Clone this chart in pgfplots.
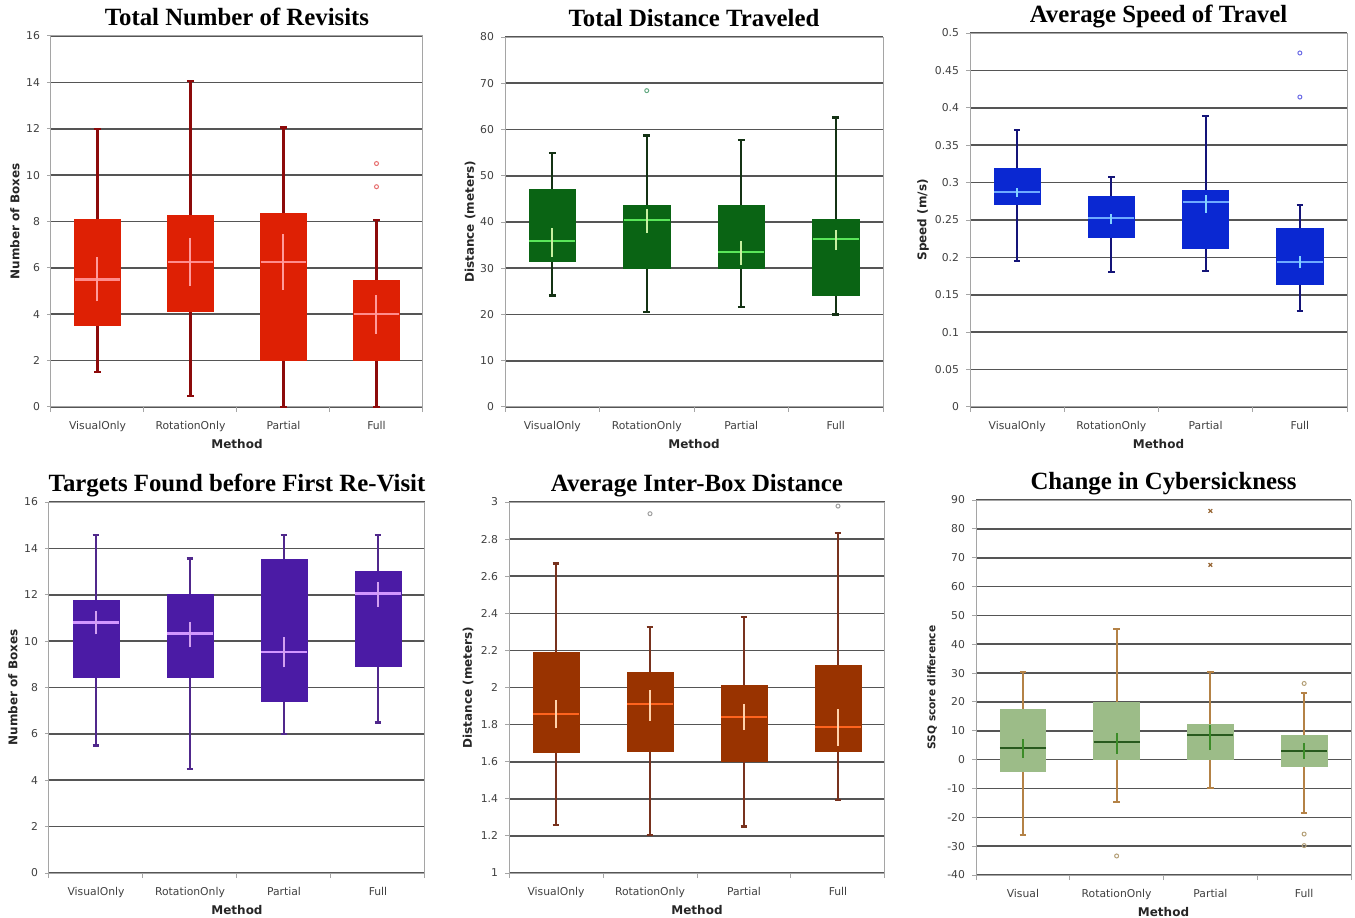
\documentclass[border=0pt]{standalone}
\usepackage{fontspec}
\setmainfont{DejaVu Sans}
\newfontfamily\titlefont{Liberation Serif}
\usepackage{pgfplots}
\pgfplotsset{compat=1.18}
\usepgfplotslibrary{statistics}

\definecolor{gridc}{RGB}{85,85,85}
\definecolor{framec}{RGB}{165,165,165}
% box, whisker, median, interval, outlier for each panel
\definecolor{aBox}{RGB}{222,32,4}   \definecolor{aWh}{RGB}{140,10,10}
\definecolor{aMed}{RGB}{255,140,140}\definecolor{aCi}{RGB}{255,155,155}\definecolor{aOut}{RGB}{230,110,110}
\definecolor{bBox}{RGB}{10,100,20}  \definecolor{bWh}{RGB}{20,50,20}
\definecolor{bMed}{RGB}{90,230,90}  \definecolor{bCi}{RGB}{200,240,160}\definecolor{bOut}{RGB}{100,170,130}
\definecolor{cBox}{RGB}{10,40,210}  \definecolor{cWh}{RGB}{20,20,120}
\definecolor{cMed}{RGB}{110,170,255}\definecolor{cCi}{RGB}{130,210,255}\definecolor{cOut}{RGB}{110,110,230}
\definecolor{dBox}{RGB}{75,27,165}  \definecolor{dWh}{RGB}{80,40,140}
\definecolor{dMed}{RGB}{210,150,255}\definecolor{dCi}{RGB}{210,160,240}\definecolor{dOut}{RGB}{120,90,200}
\definecolor{eBox}{RGB}{153,51,0}   \definecolor{eWh}{RGB}{120,50,30}
\definecolor{eMed}{RGB}{255,100,30} \definecolor{eCi}{RGB}{255,210,170}\definecolor{eOut}{RGB}{160,160,160}
\definecolor{fBox}{RGB}{156,188,136}\definecolor{fWh}{RGB}{180,130,70}
\definecolor{fMed}{RGB}{40,90,30}   \definecolor{fCi}{RGB}{60,140,40}  \definecolor{fOut}{RGB}{180,160,120}
\definecolor{fX}{RGB}{150,100,50}

\pgfplotsset{
  panel/.style={
    scale only axis, clip=false, anchor=south west,
    xmin=0.5, xmax=4.5,
    xtick={1,2,3,4},
    minor xtick={0.5,1.5,2.5,3.5,4.5},
    major x tick style={draw=none},
    minor x tick style={draw=framec, line width=0.5pt},
    minor tick length=2.5pt,
    major tick length=2pt,
    tick align=outside,
    xtick pos=left, ytick pos=left,
    ymajorgrids,
    grid style={gridc, line width=0.8pt},
    axis line style={framec, line width=0.5pt},
    y tick style={framec, line width=0.5pt},
    tick label style={font=\fontsize{5.4}{6}\selectfont, text=black!75},
    /pgf/number format/assume math mode=true,
    yticklabel style={/pgf/number format/fixed, /pgf/number format/precision=2},
    xticklabel style={yshift=-1.5pt},
    boxplot/draw direction=y,
    boxplot/box extend=0.49,
    boxplot/whisker extend=0.07,
  },
  colours/.style={
    boxplot/every box/.style={fill=#1Box, draw=#1Box},
    boxplot/every whisker/.style={draw=#1Wh, line width=1.1pt},
    boxplot/every median/.style={draw=#1Med, line width=1.1pt},
    cistyle/.style={draw=#1Ci, line width=1pt},
    outl/.style={mark=o, mark size=1pt, mark options={draw=#1Out, line width=0.5pt}},
  },
}

% position, lower whisker, lower quartile, median, upper quartile, upper whisker, outliers
\newcommand{\bx}[7]{\addplot[boxplot prepared={draw position=#1, lower whisker=#2,
  lower quartile=#3, median=#4, upper quartile=#5, upper whisker=#6}, outl] #7;}
\newcommand{\ci}[3]{\addplot[cistyle] coordinates {(#1,#2) (#1,#3)};}
\newcommand{\paneltext}[3]{%
  \node[font=\titlefont\bfseries\fontsize{12.4}{14}\selectfont, anchor=base]
    at ([yshift=5.25pt]rel axis cs:0.5,1) {#1};
  \node[font=\bfseries\fontsize{6}{7}\selectfont, text=black!85]
    at ([yshift=-18.5pt]rel axis cs:0.5,0) {Method};
  \node[font=\bfseries\fontsize{6}{7}\selectfont, text=black!85, rotate=90]
    at ([xshift=-#3]rel axis cs:0,0.5) {#2};}

\begin{document}
\begin{tikzpicture}
% 1 px of the reference = 0.5pt
\path[use as bounding box] (0pt,0pt) rectangle (677.5pt,458.5pt);

% ---- Total Number of Revisits
\begin{axis}[panel, at={(25.5pt,255pt)}, width=186pt, height=185.5pt,
  ymin=0, ymax=16, ytick={0,2,...,16},
  xticklabels={VisualOnly,RotationOnly,Partial,Full}, colours=a]
  \bx{1}{1.5}{3.5}{5.5}{8.1}{12}{coordinates {}}
  \bx{2}{0.46}{4.13}{6.25}{8.25}{14.05}{coordinates {}}
  \bx{3}{0}{2}{6.25}{8.37}{12.05}{coordinates {}}
  \bx{4}{0}{2}{4.02}{5.47}{8.05}{table[row sep=\\, y index=0] {y\\ 9.5\\ 10.5\\}}
  \ci{1}{4.55}{6.45}
  \ci{2}{5.23}{7.28}
  \ci{3}{5.06}{7.46}
  \ci{4}{3.16}{4.84}
  \paneltext{Total Number of Revisits}{Number of Boxes}{18pt}
\end{axis}

% ---- Total Distance Traveled
\begin{axis}[panel, at={(252.5pt,255pt)}, width=189pt, height=185pt,
  ymin=0, ymax=80, ytick={0,10,...,80},
  xticklabels={VisualOnly,RotationOnly,Partial,Full}, colours=b]
  \bx{1}{24.1}{31.4}{35.9}{47.0}{54.9}{coordinates {}}
  \bx{2}{20.6}{29.9}{40.5}{43.6}{58.7}{table[row sep=\\, y index=0] {y\\ 68.4\\}}
  \bx{3}{21.6}{29.9}{33.5}{43.6}{57.7}{coordinates {}}
  \bx{4}{20.0}{24.1}{36.3}{40.5}{62.6}{coordinates {}}
  \ci{1}{32.4}{38.8}
  \ci{2}{37.6}{42.9}
  \ci{3}{30.8}{36.0}
  \ci{4}{33.9}{38.3}
  \paneltext{Total Distance Traveled}{Distance (meters)}{17.5pt}
\end{axis}

% ---- Average Speed of Travel
\begin{axis}[panel, at={(485pt,255pt)}, width=188.5pt, height=187pt,
  ymin=0, ymax=0.5, ytick={0,0.05,0.1,0.15,0.2,0.25,0.3,0.35,0.4,0.45,0.5},
  xticklabels={VisualOnly,RotationOnly,Partial,Full}, colours=c]
  \bx{1}{0.1956}{0.2714}{0.287}{0.3195}{0.3708}{coordinates {}}
  \bx{2}{0.18}{0.2268}{0.2527}{0.2816}{0.3075}{coordinates {}}
  \bx{3}{0.1814}{0.2126}{0.2736}{0.2892}{0.3886}{coordinates {}}
  \bx{4}{0.1288}{0.1644}{0.1938}{0.2393}{0.2696}{table[row sep=\\, y index=0] {y\\ 0.4144\\ 0.4733\\}}
  \ci{1}{0.2807}{0.2928}
  \ci{2}{0.2451}{0.2585}
  \ci{3}{0.2594}{0.2839}
  \ci{4}{0.1858}{0.2014}
  \paneltext{Average Speed of Travel}{Speed (m/s)}{23.5pt}
\end{axis}

% ---- Targets Found before First Re-Visit
\begin{axis}[panel, at={(24.5pt,22pt)}, width=188pt, height=185.5pt,
  ymin=0, ymax=16, ytick={0,2,...,16},
  xticklabels={VisualOnly,RotationOnly,Partial,Full}, colours=d]
  \bx{1}{5.5}{8.44}{10.8}{11.77}{14.56}{coordinates {}}
  \bx{2}{4.49}{8.44}{10.33}{12.01}{13.56}{coordinates {}}
  \bx{3}{6.0}{7.42}{9.54}{13.52}{14.56}{coordinates {}}
  \bx{4}{6.49}{8.93}{12.05}{13.01}{14.56}{coordinates {}}
  \ci{1}{10.29}{11.31}
  \ci{2}{9.73}{10.83}
  \ci{3}{8.87}{10.19}
  \ci{4}{11.48}{12.56}
  \paneltext{Targets Found before First Re-Visit}{Number of Boxes}{18pt}
\end{axis}

% ---- Average Inter-Box Distance
\begin{axis}[panel, at={(254.5pt,22pt)}, width=188pt, height=185.5pt,
  ymin=1, ymax=3, ytick={1,1.2,1.4,1.6,1.8,2,2.2,2.4,2.6,2.8,3},
  xticklabels={VisualOnly,RotationOnly,Partial,Full}, colours=e]
  \bx{1}{1.257}{1.649}{1.857}{2.187}{2.668}{coordinates {}}
  \bx{2}{1.203}{1.658}{1.909}{2.080}{2.327}{table[row sep=\\, y index=0] {y\\ 2.937\\}}
  \bx{3}{1.251}{1.601}{1.843}{2.010}{2.381}{coordinates {}}
  \bx{4}{1.395}{1.655}{1.789}{2.121}{2.833}{table[row sep=\\, y index=0] {y\\ 2.978\\}}
  \ci{1}{1.780}{1.933}
  \ci{2}{1.822}{1.987}
  \ci{3}{1.771}{1.909}
  \ci{4}{1.687}{1.883}
  \paneltext{Average Inter-Box Distance}{Distance (meters)}{20.5pt}
\end{axis}

% ---- Change in Cybersickness
\begin{axis}[panel, at={(488pt,21pt)}, width=187.5pt, height=187.5pt,
  ymin=-40, ymax=90, ytick={-40,-30,...,90},
  xticklabels={Visual,RotationOnly,Partial,Full}, colours=f]
  \bx{1}{-26.1}{-3.95}{4.14}{17.43}{30.5}{coordinates {}}
  \bx{2}{-14.8}{0.2}{6.0}{19.86}{45.3}{table[row sep=\\, y index=0] {y\\ -33.4\\}}
  \addplot[boxplot prepared={draw position=3, lower whisker=-9.7, lower quartile=0.2,
    median=8.53, upper quartile=12.35, upper whisker=30.5},
    mark=x, mark size=1.3pt, mark options={draw=fX, line width=0.6pt}]
    table[row sep=\\, y index=0] {y\\ 67.5\\ 86.2\\};
  \bx{4}{-18.6}{-2.44}{3.1}{8.53}{22.98}{table[row sep=\\, y index=0] {y\\ 26.4\\ -25.8\\ -29.8\\}}
  \ci{1}{0.68}{7.03}
  \ci{2}{1.95}{9.34}
  \ci{3}{3.33}{12.0}
  \ci{4}{0.21}{5.87}
  \node[font=\titlefont\bfseries\fontsize{12.4}{14}\selectfont, anchor=base]
    at ([yshift=5.25pt]rel axis cs:0.5,1) {Change in Cybersickness};
  \node[font=\bfseries\fontsize{6}{7}\selectfont, text=black!85]
    at ([yshift=-18.5pt]rel axis cs:0.5,0) {Method};
  \node[font=\bfseries\fontsize{5.3}{6}\selectfont, text=black!85, rotate=90]
    at ([xshift=-22pt]rel axis cs:0,0.5) {SSQ score difference};
\end{axis}
\end{tikzpicture}
\end{document}
